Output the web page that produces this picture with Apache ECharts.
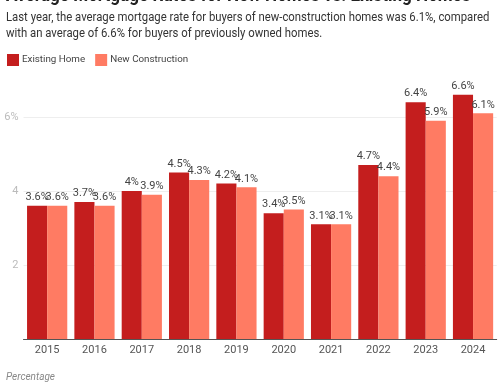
<!DOCTYPE html>
<html><head><meta charset="utf-8">
<script src="https://cdn.jsdelivr.net/npm/echarts@6/dist/echarts.min.js"></script>
<style>html,body{margin:0;padding:0;background:#fff}#c{width:500px;height:383px}</style>
</head><body><div id="c"></div>
<script>
const title = 'Average Mortgage Rates for New Homes vs. Existing Homes';
const subtitle = 'Last year, the average mortgage rate for buyers of new-construction homes was 6.1%, compared\nwith an average of 6.6% for buyers of previously owned homes.';
const years = ['2015','2016','2017','2018','2019','2020','2021','2022','2023','2024'];
const existingHome = [3.6,3.7,4.0,4.5,4.2,3.4,3.1,4.7,6.4,6.6];
const newConstruction = [3.6,3.6,3.9,4.3,4.1,3.5,3.1,4.4,5.9,6.1];
const seriesNames = ['Existing Home','New Construction'];
const yTickLabels = {0:'',2:'2',4:'4',6:'6%'};
const footer = 'Percentage';

const chart = echarts.init(document.getElementById('c'));
const font = 'Roboto, sans-serif';
const lbl = {show:true, position:'top', distance:3, color:'#444', fontSize:11, fontFamily:font, formatter: p => p.value + '%'};
chart.setOption({
  animation:false,
  textStyle:{fontFamily:font},
  graphic:[
    {type:'text', x:6, y:-13, scaleX:0.9, style:{text:title, font:'bold 19px Roboto, sans-serif', fill:'#222'}},
    {type:'text', x:6, y:10, scaleX:0.9, style:{text:subtitle, font:'12.6px Roboto, sans-serif', fill:'#333', lineHeight:16}},
    {type:'text', left:6, top:372, style:{text:footer, font:'italic 10px Roboto, sans-serif', fill:'#888'}}
  ],
  legend:{left:2, top:49, itemWidth:12, itemHeight:12, itemGap:10, icon:'rect',
    textStyle:{color:'#444', fontSize:9.8, fontFamily:font, padding:[0,0,0,-2]}},
  grid:{left:23.5, right:3.3, top:117, bottom:44, containLabel:false},
  xAxis:{type:'category', data:years,
    axisLine:{lineStyle:{color:'#555'}}, axisTick:{show:false},
    axisLabel:{color:'#555', fontSize:11, margin:6}},
  yAxis:{type:'value', min:0, max:6, interval:2,
    axisLine:{show:false}, axisTick:{show:false},
    splitLine:{lineStyle:{color:'#eee'}},
    axisLabel:{color:'#bbb', fontSize:11, margin:5, formatter: v => yTickLabels[v] ?? ''}},
  series:[
    {name:seriesNames[0], type:'bar', data:existingHome, barGap:'0%', barCategoryGap:'15%', clip:false,
      itemStyle:{color:'#c41e1e'}, label:lbl},
    {name:seriesNames[1], type:'bar', data:newConstruction, clip:false,
      itemStyle:{color:'#ff7b63'}, label:lbl}
  ]
});
</script></body></html>
